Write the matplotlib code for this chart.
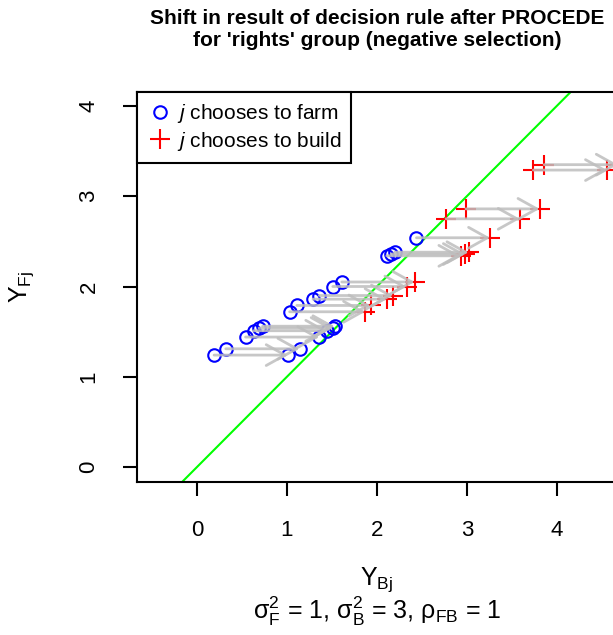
import matplotlib
matplotlib.use("Agg")
import matplotlib.pyplot as plt
from matplotlib.lines import Line2D

plt.rcParams['font.family'] = ['Liberation Sans', 'DejaVu Sans']
plt.rcParams['mathtext.fontset'] = 'custom'
plt.rcParams['mathtext.rm'] = 'Liberation Sans'
plt.rcParams['mathtext.it'] = 'Liberation Sans:italic'
plt.rcParams['mathtext.default'] = 'regular'

# points before and after the PROCEDE shift (Y_B moves right, Y_F unchanged)
yb_before = [0.19, 0.32, 0.54, 0.63, 0.69, 0.73, 1.03, 1.11, 1.29, 1.36, 1.51, 1.61,
             2.11, 2.16, 2.20, 2.44, 2.77, 2.99, 3.74, 3.86]
yb_after = [1.01, 1.14, 1.36, 1.45, 1.51, 1.53, 1.87, 1.93, 2.11, 2.18, 2.33, 2.42,
            2.93, 2.98, 3.02, 3.26, 3.59, 3.81, 4.56, 4.68]
yf = [1.24, 1.31, 1.44, 1.51, 1.54, 1.56, 1.72, 1.79, 1.86, 1.90, 2.00, 2.05,
      2.34, 2.36, 2.38, 2.54, 2.75, 2.86, 3.29, 3.35]

ticks = [0, 1, 2, 3, 4]

fig = plt.figure(figsize=(6.13, 6.35), dpi=100)
ax = fig.add_axes([137/613, 153/635, 480/613, 390/635])
ax.set_xlim(-0.667, 4.67)
ax.set_ylim(-0.166, 4.155)

ax.axline((0, 0), slope=1, color='#00ff00', lw=1.5, zorder=1)

def draw_pts(xs, ys):
    for x, y in zip(xs, ys):
        if y > x:
            ax.plot(x, y, 'o', mfc='none', mec='#0000ff', mew=1.5, ms=9, zorder=2)
        else:
            ax.plot(x, y, '+', color='#ff0000', mew=1.5, ms=14, zorder=2)

draw_pts(yb_before, yf)
draw_pts(yb_after, yf)

for x0, x1, y in zip(yb_before, yb_after, yf):
    ax.annotate("", xy=(x1, y), xytext=(x0, y),
                arrowprops=dict(arrowstyle="->,head_length=0.45,head_width=0.25",
                                color='#bebebe', lw=2, alpha=0.85,
                                shrinkA=0, shrinkB=0, mutation_scale=30),
                zorder=3, annotation_clip=False)

ax.set_xticks(ticks)
ax.set_yticks(ticks)
ax.tick_params(length=10, width=1.5, labelsize=16)
ax.tick_params(axis='x', pad=17)
ax.tick_params(axis='y', pad=17)
for lab in ax.get_yticklabels():
    lab.set_rotation(90)
    lab.set_va('center')
for s in ax.spines.values():
    s.set_linewidth(1.5)

handles = [Line2D([], [], ls='none', marker='o', mfc='none', mec='#0000ff', mew=1.5, ms=9),
           Line2D([], [], ls='none', marker='+', color='#ff0000', mew=1.5, ms=14)]
leg = ax.legend(handles, [r"$\mathit{j}$ chooses to farm", r"$\mathit{j}$ chooses to build"],
                loc='upper left', bbox_to_anchor=(0, 1), borderaxespad=0, fontsize=15,
                fancybox=False, framealpha=1, edgecolor='black', handletextpad=0.2,
                handlelength=1.2, borderpad=0.5, labelspacing=0.2)
leg.get_frame().set_linewidth(1.5)

cx = (137 + 240) / 613
fig.text(cx, 1 - 30/635, "Shift in result of decision rule after PROCEDE\nfor 'rights' group (negative selection)",
         ha='center', va='center', fontsize=15, fontweight='bold', linespacing=1.2)
fig.text(cx, 1 - 580/635, r"$Y_{Bj}$", ha='center', va='center', fontsize=18)
fig.text(cx, 1 - 611/635, r"$\sigma^2_F$ = 1, $\sigma^2_B$ = 3, $\rho_{FB}$ = 1",
         ha='center', va='center', fontsize=18)
fig.text(22/613, 1 - 287/635, r"$Y_{Fj}$", ha='center', va='center', fontsize=18, rotation=90)

fig.savefig("out.png", dpi=100)
